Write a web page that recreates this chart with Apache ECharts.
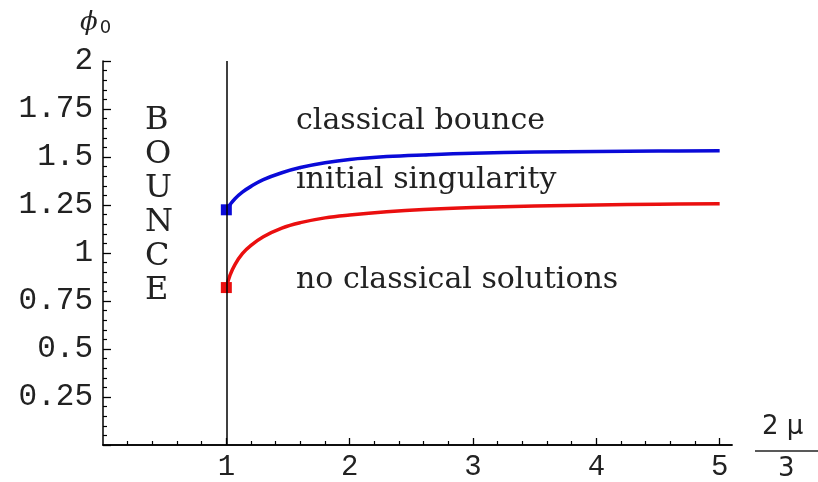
<!DOCTYPE html>
<html>
<head>
<meta charset="utf-8">
<script src="https://cdn.jsdelivr.net/npm/echarts@6/dist/echarts.min.js"></script>
<style>html,body{margin:0;padding:0;background:#fff}#c{width:818px;height:482px}</style>
</head>
<body>
<div id="c"></div>
<script>
// ---- data ----
const muValues   = [1, 1.03, 1.07, 1.13, 1.2, 1.3, 1.45, 1.6, 1.8, 2, 2.3, 2.6, 3, 3.5, 4, 4.5, 5];
const bouncePhi  = [1.225, 1.252, 1.283, 1.317, 1.347, 1.382, 1.418, 1.445, 1.47, 1.487, 1.502, 1.511, 1.52, 1.526, 1.529, 1.531, 1.533];
const singularPhi= [0.82, 0.885, 0.94, 0.997, 1.04, 1.085, 1.13, 1.158, 1.183, 1.198, 1.215, 1.227, 1.237, 1.245, 1.25, 1.254, 1.257];
const xMajorTicks = [1, 2, 3, 4, 5];
const xMinorTicks = [0.2, 0.4, 0.6, 0.8, 1.2, 1.4, 1.6, 1.8, 2.2, 2.4, 2.6, 2.8, 3.2, 3.4, 3.6, 3.8, 4.2, 4.4, 4.6, 4.8];
const yTickLabels = ['0.25', '0.5', '0.75', '1', '1.25', '1.5', '1.75', '2'];
const regionLabels = ['classical bounce', 'initial singularity', 'no classical solutions'];

const pairs = ys => muValues.map((x, i) => [x, ys[i]]);
const blue = '#0a0ad8', red = '#ea0f0f';
const serif = 'DejaVu Serif';
const mono = 'Liberation Mono';

const chart = echarts.init(document.getElementById('c'), null, {renderer: 'canvas'});
const baseX = {
  type: 'value', min: 0, max: 5.1, position: 'bottom',
  splitLine: {show: false},
  axisLine: {show: true, onZero: false, lineStyle: {color: '#000', width: 1.5}},
};
chart.setOption({
  animation: false,
  backgroundColor: '#fff',
  grid: {left: 103, right: 86, top: 61, bottom: 34},
  xAxis: [
    Object.assign({}, baseX, {
      axisTick: {show: true, inside: true, length: 7, customValues: xMajorTicks, lineStyle: {color: '#000', width: 1.3}},
      axisLabel: {customValues: xMajorTicks, margin: 8, fontFamily: mono, fontSize: 29, color: '#222'}
    }),
    Object.assign({}, baseX, {
      axisTick: {show: true, inside: true, length: 4, customValues: xMinorTicks, lineStyle: {color: '#000', width: 1.2}},
      axisLabel: {show: false}
    })
  ],
  yAxis: {
    type: 'value', min: 0, max: 2, interval: 0.25,
    splitLine: {show: false},
    axisLine: {show: true, onZero: false, lineStyle: {color: '#000', width: 1.5}},
    axisTick: {show: true, inside: true, length: 8, lineStyle: {color: '#000', width: 1.3}},
    minorTick: {show: true, splitNumber: 5, length: 4, lineStyle: {color: '#000', width: 1.2}},
    axisLabel: {
      margin: 10, fontFamily: mono, fontSize: 31, color: '#222',
      formatter: v => { const i = Math.round(v / 0.25) - 1; return i >= 0 ? yTickLabels[i] : ''; }
    }
  },
  series: [
    {
      type: 'line', data: pairs(bouncePhi), smooth: 0.4, symbol: 'none',
      lineStyle: {color: blue, width: 3.5},
      markLine: {
        silent: true, symbol: 'none', label: {show: false},
        lineStyle: {color: '#000', width: 1.5, type: 'solid'},
        data: [{xAxis: muValues[0]}]
      },
      z: 3
    },
    {
      type: 'line', data: pairs(singularPhi), smooth: 0.4, symbol: 'none',
      lineStyle: {color: red, width: 3.5}, z: 3
    },
    {
      type: 'scatter', symbol: 'rect', symbolSize: 11,
      itemStyle: {opacity: 1},
      data: [
        {value: [muValues[0], bouncePhi[0]], itemStyle: {color: blue, opacity: 1}},
        {value: [muValues[0], singularPhi[0]], itemStyle: {color: red, opacity: 1}}
      ],
      z: 4
    }
  ],
  graphic: [
    {type: 'text', left: 296, top: 106, style: {text: regionLabels[0], font: '30px "DejaVu Serif"', fill: '#222'}},
    {type: 'text', left: 296, top: 165, style: {text: regionLabels[1], font: '30px "DejaVu Serif"', fill: '#222'}},
    {type: 'text', left: 296, top: 265, style: {text: regionLabels[2], font: '30px "DejaVu Serif"', fill: '#222'}},
    {type: 'text', left: 145, top: 104, style: {text: 'B\nO\nU\nN\nC\nE', font: '32px "DejaVu Serif"', lineHeight: 34, align: 'center', fill: '#222'}},
    {type: 'text', left: 80, top: 10, style: {
      text: '{p|ϕ}{s|0}',
      rich: {
        p: {fontFamily: serif, fontStyle: 'italic', fontSize: 26, fill: '#222'},
        s: {fontFamily: 'DejaVu Sans', fontSize: 18, fill: '#222', padding: [10, 0, 0, 2]}
      }
    }},
    {type: 'text', left: 762, top: 414, style: {text: '2 μ', font: '26px "DejaVu Sans"', fill: '#222'}},
    {type: 'line', shape: {x1: 755, y1: 451, x2: 818, y2: 451}, style: {stroke: '#222', lineWidth: 1.5}},
    {type: 'text', left: 778, top: 456, style: {text: '3', font: '26px "DejaVu Sans"', fill: '#222'}}
  ]
});
</script>
</body>
</html>
